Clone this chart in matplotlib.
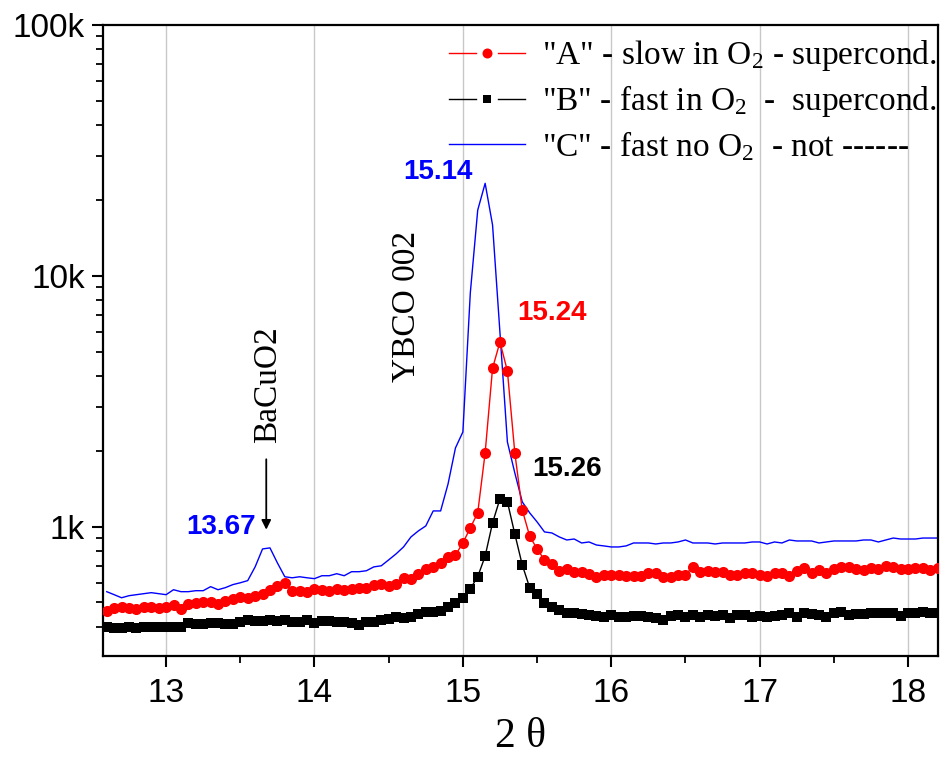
import numpy as np
import matplotlib
matplotlib.use("Agg")
import matplotlib.pyplot as plt
from matplotlib.lines import Line2D
from matplotlib.legend_handler import HandlerBase
from matplotlib.ticker import FixedLocator, LogLocator, FuncFormatter, NullFormatter, MultipleLocator

plt.rcParams["mathtext.fontset"] = "custom"
plt.rcParams["mathtext.rm"] = "Liberation Serif"
plt.rcParams["mathtext.it"] = "Liberation Serif:italic"

# 2-theta scan grid (degrees)
two_theta = np.round(np.arange(113) * 0.05 + 12.6, 2)

# Sample "A": slow cooled in O2
counts_a = [
    463, 476, 480, 476, 471, 480, 480, 476, 480, 489,
    471, 494, 498, 503, 503, 494, 508, 517, 527, 522,
    532, 542, 562, 583, 599, 557, 557, 552, 567, 562,
    557, 567, 562, 567, 573, 573, 589, 594, 583, 594,
    627, 622, 651, 680, 693, 719, 759, 773, 863, 991,
    1138, 1973, 4295, 5455, 4180, 1973, 1169, 920, 817, 739,
    713, 669, 680, 663, 663, 651, 633, 645, 645, 645,
    639, 639, 639, 657, 657, 633, 633, 645, 645, 693,
    663, 669, 663, 663, 645, 645, 657, 657, 645, 639,
    657, 657, 639, 669, 687, 657, 674, 657, 680, 693,
    693, 680, 674, 687, 680, 700, 693, 680, 680, 687,
    687, 674, 687,
]

# Sample "B": fast cooled in O2
counts_b = [
    399, 395, 395, 399, 395, 399, 399, 399, 399, 399,
    399, 414, 410, 410, 414, 414, 410, 410, 418, 426,
    422, 422, 426, 422, 426, 418, 418, 426, 414, 422,
    422, 418, 418, 414, 406, 418, 418, 426, 430, 438,
    434, 438, 450, 458, 458, 463, 480, 498, 522, 567,
    633, 765, 1038, 1295, 1259, 937, 706, 573, 542, 498,
    480, 467, 454, 454, 450, 446, 442, 438, 446, 438,
    438, 442, 442, 438, 434, 426, 442, 446, 438, 446,
    438, 446, 442, 446, 434, 446, 446, 438, 442, 438,
    442, 446, 454, 438, 454, 450, 446, 438, 454, 458,
    446, 450, 450, 454, 454, 454, 454, 442, 454, 454,
    458, 454, 454,
]

# Sample "C": fast cooled without O2
counts_c = [
    552, 537, 522, 532, 537, 542, 547, 542, 537, 562,
    552, 552, 557, 557, 578, 562, 573, 589, 599, 611,
    693, 817, 825, 719, 633, 627, 633, 627, 622, 639,
    639, 651, 639, 663, 663, 669, 693, 700, 739, 781,
    832, 912, 964, 1009, 1158, 1158, 1483, 2064, 2390, 8550,
    18300, 23400, 15960, 5930, 2180, 1641, 1259, 1138, 1047, 955,
    946, 912, 887, 895, 863, 871, 847, 840, 832, 832,
    840, 863, 863, 863, 855, 863, 863, 871, 887, 863,
    863, 863, 855, 863, 863, 863, 863, 871, 871, 855,
    871, 863, 887, 879, 879, 879, 863, 871, 879, 879,
    879, 879, 887, 887, 871, 887, 903, 895, 895, 895,
    903, 903, 903,
]

legend_labels = [
    r'"A" - slow in O$_2$ - supercond.',
    r'"B" - fast in O$_2$  -  supercond.',
    r'"C" - fast no O$_2$  - not ------',
]


class GapLineHandler(HandlerBase):
    """Legend key: two line pieces with the symbol in the gap between them."""

    def create_artists(self, legend, orig, xdescent, ydescent, width, height,
                       fontsize, trans):
        x0 = -xdescent
        y = -ydescent + height / 2.0
        color = orig.get_color()
        lw = orig.get_linewidth()
        marker = orig.get_marker()
        artists = []
        if marker in (None, "None", "", " "):
            artists.append(Line2D([x0, x0 + width], [y, y], color=color, lw=lw))
        else:
            artists.append(Line2D([x0, x0 + 0.36 * width], [y, y], color=color, lw=lw))
            artists.append(Line2D([x0 + 0.64 * width, x0 + width], [y, y], color=color, lw=lw))
            artists.append(Line2D([x0 + width / 2.0], [y], marker=marker, ls="none",
                                  color=color, markersize=orig.get_markersize() * 0.9,
                                  markeredgewidth=0))
        for a in artists:
            a.set_transform(trans)
        return artists


fig = plt.figure(figsize=(9.4, 7.58), dpi=100)
ax = fig.add_axes([0.1096, 0.1346, 0.888, 0.8324])

la, = ax.plot(two_theta, counts_a, color="#ff0000", lw=1.0, marker="o",
              markersize=8.0, markeredgewidth=0, label=legend_labels[0], zorder=3)
lb, = ax.plot(two_theta, counts_b, color="#000000", lw=1.0, marker="s",
              markersize=6.6, markeredgewidth=0, label=legend_labels[1], zorder=3)
lc, = ax.plot(two_theta, counts_c, color="#0000ff", lw=1.0,
              label=legend_labels[2], zorder=2)

ax.set_yscale("log")
ax.set_xlim(12.575, 18.2)
ax.set_ylim(306, 1e5)

# axis ticks
ax.xaxis.set_major_locator(MultipleLocator(1))
ax.xaxis.set_minor_locator(MultipleLocator(0.5))
ax.yaxis.set_major_locator(FixedLocator([1e3, 1e4, 1e5]))
ax.yaxis.set_minor_locator(LogLocator(base=10, subs=np.arange(2, 10)))
ax.yaxis.set_minor_formatter(NullFormatter())
ax.yaxis.set_major_formatter(FuncFormatter(lambda v, p: f"{int(round(v / 1000))}k"))

ax.tick_params(axis="both", which="major", direction="out", length=8, width=1.5,
               top=False, right=False)
ax.tick_params(axis="both", which="minor", direction="out", length=5, width=1.3,
               top=False, right=False)
ax.tick_params(axis="x", which="major", pad=8)
ax.tick_params(axis="y", which="major", pad=5)

for lbl in ax.get_xticklabels():
    lbl.set_fontfamily("Liberation Sans")
    lbl.set_fontsize(24)
for lbl in ax.get_yticklabels():
    lbl.set_fontfamily("Liberation Sans")
    lbl.set_fontsize(24)

for s in ax.spines.values():
    s.set_linewidth(1.6)

ax.grid(axis="x", which="major", color="#c8c8c8", lw=1.0)
ax.set_axisbelow(True)

ax.set_xlabel("2 θ", fontfamily="Liberation Serif", fontsize=30, labelpad=6)

# peak positions
ax.text(13.37, 1000, "13.67", color="#0000ff", fontsize=20, fontweight="bold",
        fontfamily="Liberation Sans", ha="center", va="center")
ax.text(14.83, 25900, "15.14", color="#0000ff", fontsize=20, fontweight="bold",
        fontfamily="Liberation Sans", ha="center", va="center")
ax.text(15.60, 7130, "15.24", color="#ff0000", fontsize=20, fontweight="bold",
        fontfamily="Liberation Sans", ha="center", va="center")
ax.text(15.70, 1702, "15.26", color="#000000", fontsize=20, fontweight="bold",
        fontfamily="Liberation Sans", ha="center", va="center")

# phase labels
ax.text(13.687, 3680, "BaCuO2", rotation=90, fontsize=24, fontfamily="Liberation Serif",
        ha="center", va="center")
ax.annotate("", xy=(13.675, 975), xytext=(13.675, 1860),
            arrowprops=dict(arrowstyle="-|>", color="black", lw=1.3,
                            mutation_scale=14, shrinkA=0, shrinkB=0))
ax.text(14.62, 7590, "YBCO 002", rotation=90, fontsize=24, fontfamily="Liberation Serif",
        ha="center", va="center")

leg = ax.legend(handles=[la, lb, lc], loc="upper right", frameon=False,
                bbox_to_anchor=(1.015, 1.0),
                prop={"family": "Liberation Serif", "size": 24},
                handler_map={Line2D: GapLineHandler()},
                handlelength=2.3, handletextpad=0.5, labelspacing=0.3,
                borderaxespad=0.0, borderpad=0.4)

fig.savefig("out.png", dpi=100)
